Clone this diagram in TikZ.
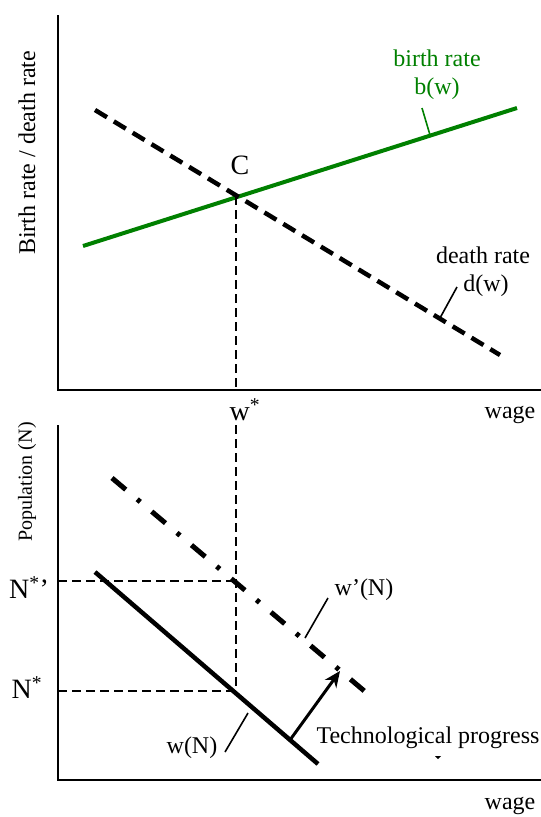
\documentclass[tikz,border=0pt]{standalone}
\usepackage{fontspec}
\setmainfont{Liberation Serif}
\definecolor{brgreen}{RGB}{0,128,0}
\usetikzlibrary{arrows.meta,positioning,calc}
\tikzset{
  lbl/.style={inner sep=0pt, font=\fontsize{24}{28}\selectfont},
  biglbl/.style={inner sep=0pt, font=\fontsize{28}{32}\selectfont},
  axis/.style={line width=2pt},
  guide/.style={line width=2.8pt, dash pattern=on 9pt off 5pt},
  leader/.style={line width=1.6pt}
}

\begin{document}
\begin{tikzpicture}[x=1pt, y=-1pt]
  \useasboundingbox (0,0) rectangle (541,817);

  % Axes
  \draw[axis] (58,15) -- (58,390) -- (541,390);
  \draw[axis] (58,425) -- (58,780) -- (541,780);
  \node[lbl, rotate=90] (ylabtop) at (27,153) {Birth rate / death rate};
  \node[lbl, font=\fontsize{20}{24}\selectfont, rotate=90] (ylabbot) at (27,482) {Population (N)};
  \node[lbl] (wagetop) at (510,415) {wage};
  \node[lbl] (wagebot) at (510,806) {wage};

  % Birth and death rates
  \coordinate (bstart) at (83,246);
  \coordinate (bend) at (517,108);
  \coordinate (dstart) at (95,110);
  \coordinate (dend) at (500,355);
  \coordinate (C) at (236,196);
  \draw[brgreen, line width=4pt] (bstart) -- (bend);
  \draw[line width=4.5pt, dash pattern=on 14pt off 8pt] (dstart) -- (dend);
  \draw[guide] (C) -- (236,390);
  \node[biglbl] (clab) at (240,165) {C};
  \node[biglbl] (wstar) at (245,410) {w\textsuperscript{*}};

  % Curve labels, top
  \node[lbl, text=brgreen, align=center] (blab) at (437,75) {birth rate\\b(w)};
  \coordinate (btick) at (430,135);
  \draw[brgreen, leader] (422,108) -- (btick);
  \node[lbl, align=center] (dlab) at (483,272) {death rate\\\ d(w)};
  \coordinate (dtick) at (440,318);
  \draw[leader] (457,287) -- (dtick);

  % Wage curves, bottom
  \coordinate (wstart) at (95,572);
  \coordinate (wend) at (318,764);
  \coordinate (vstart) at (112,478);
  \coordinate (vend) at (375,700);
  \draw[line width=4.5pt] (wstart) -- (wend);
  \draw[line width=5pt, dash pattern=on 18pt off 15pt on 4pt off 15pt] (vstart) -- (vend);
  \draw[guide] (236,425) -- (236,691);
  \draw[guide] (58,581) -- (236,581);
  \draw[guide] (58,691) -- (236,691);
  \node[biglbl] (nstarp) at (29,588) {N\textsuperscript{*}’};
  \node[biglbl] (nstar) at (27,688) {N\textsuperscript{*}};

  % Technological progress
  \coordinate (tpfrom) at (290,740);
  \coordinate (tpto) at (340,671);
  \draw[-{Stealth[length=16pt, width=14pt]}, line width=3pt] (tpfrom) -- (tpto);
  \node[lbl] (tplab) at (428,738) {Technological progress};
  \fill (435,756) -- (441,756) -- (438,759) -- cycle;

  % Curve labels, bottom
  \node[lbl] (wnlab) at (192,748) {w(N)};
  \draw[leader] (225,752) -- (248,713);
  \node[lbl] (wplab) at (364,590) {w’(N)};
  \draw[leader] (328,598) -- (305,638);
\end{tikzpicture}
\end{document}
